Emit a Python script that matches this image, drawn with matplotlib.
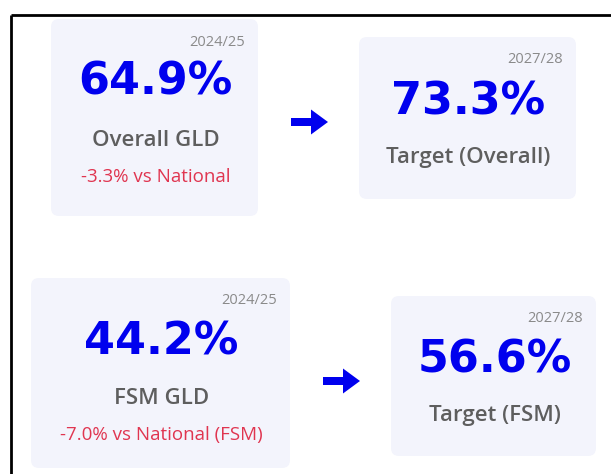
import matplotlib.pyplot as plt
from matplotlib.patches import FancyBboxPatch, FancyArrow

# card contents
years = ['2024/25', '2027/28', '2024/25', '2027/28']
values = [64.9, 73.3, 44.2, 56.6]
labels = ['Overall GLD', 'Target (Overall)', 'FSM GLD', 'Target (FSM)']
notes = ['-3.3% vs National', '', '-7.0% vs National (FSM)', '']

# card boxes in pixel units: x0, y0, x1, y1 (y from the top)
boxes = [(51, 19, 258, 216), (359, 37, 576, 199),
         (31, 278, 290, 468), (391, 296, 596, 456)]
# vertical offsets inside each card: year, value, label, note
offs = [(23, 63, 121, 158), (22, 65, 120, None),
        (22, 64, 121, 157), (22, 64, 119, None)]
arrows = [(291, 122, 328), (323, 381, 360)]

blue = '#0000ee'
grey = '#5e5e5e'
red = '#e03550'
card_bg = '#f3f4fc'

plt.rcParams['font.family'] = ['Open Sans', 'DejaVu Sans']

fig = plt.figure(figsize=(6.11, 4.74), dpi=100)
ax = fig.add_axes([0, 0, 1, 1])
ax.set_xlim(0, 611)
ax.set_ylim(474, 0)
ax.axis('off')

# frame lines (top and left only)
ax.plot([11, 611], [15, 15], color='black', lw=2, solid_capstyle='butt')
ax.plot([11, 11], [15, 474], color='black', lw=2, solid_capstyle='butt')

for i in range(4):
    x0, y0, x1, y1 = boxes[i]
    ax.add_patch(FancyBboxPatch((x0 + 8, y0 + 8), x1 - x0 - 16, y1 - y0 - 16,
                                boxstyle='round,pad=8', fc=card_bg, ec='none'))
    cx = (x0 + x1) / 2 + 1
    oy, ov, ol, on = offs[i]
    ax.text(x1 - 13, y0 + oy, years[i], ha='right', va='center',
            fontsize=10.5, color='#8a8a8a')
    ax.text(cx, y0 + ov, '%.1f%%' % values[i], ha='center', va='center',
            fontsize=32, fontweight='bold', color=blue, family='DejaVu Sans')
    ax.text(cx, y0 + ol, labels[i], ha='center', va='center',
            fontsize=16, fontweight='semibold', color=grey)
    if on is not None:
        ax.text(cx, y0 + on, notes[i], ha='center', va='center',
                fontsize=13.5, color=red)

for xa, ya, xb in arrows:
    ax.add_patch(FancyArrow(xa, ya, xb - xa, 0, width=8, head_width=25,
                            head_length=17, length_includes_head=True,
                            fc=blue, ec='none'))

fig.savefig('out.png', dpi=100)
